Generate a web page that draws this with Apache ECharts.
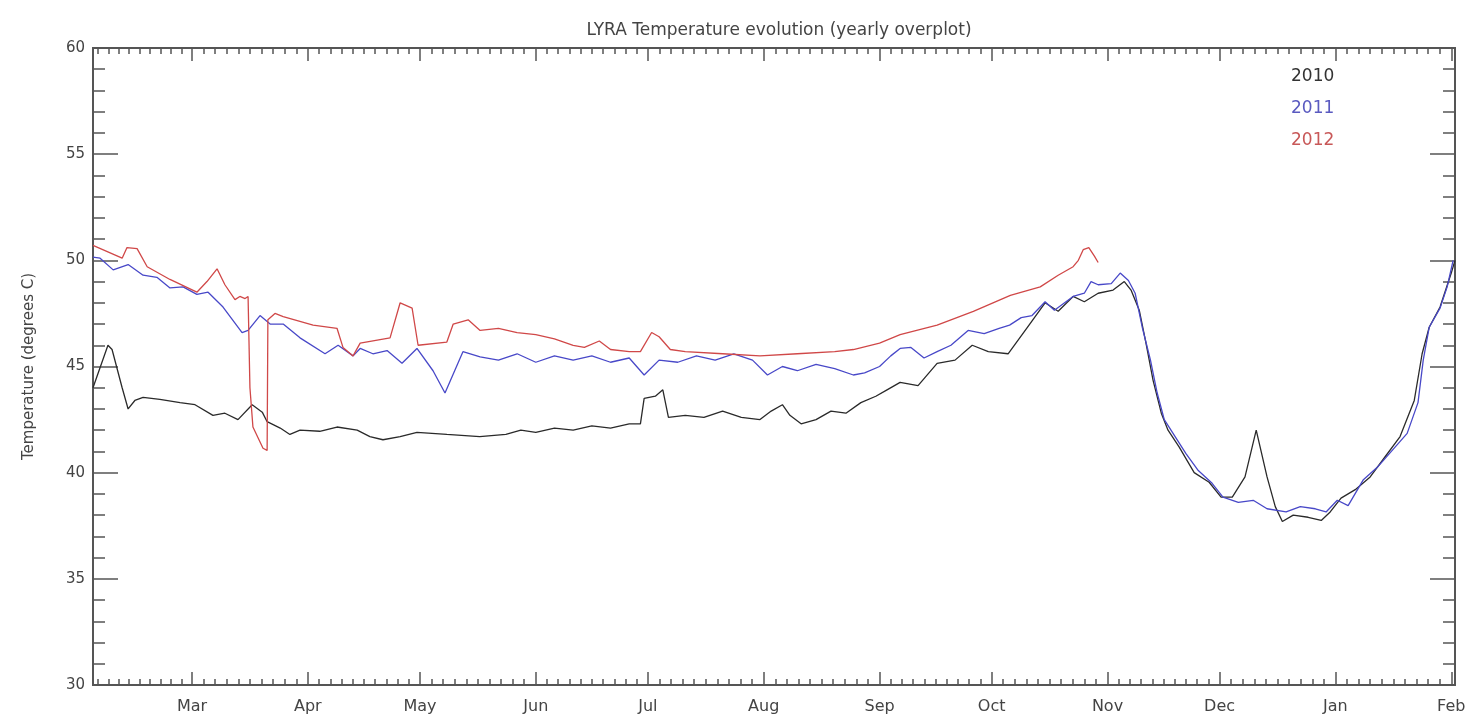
<!DOCTYPE html>
<html>
<head>
<meta charset="utf-8">
<title>LYRA Temperature evolution</title>
<script src="https://cdn.jsdelivr.net/npm/echarts@6/dist/echarts.min.js"></script>
<style>
  html, body { margin: 0; padding: 0; background: #fff; }
  #chart { width: 1476px; height: 724px; }
</style>
</head>
<body>
<div id="chart"></div>
<script>
// x = days since 1 Feb, y = temperature in degrees C
var monthStarts = [0, 28, 59, 89, 120, 150, 181, 212, 242, 273, 303, 334, 365];
var monthLabels = ['Feb', 'Mar', 'Apr', 'May', 'Jun', 'Jul', 'Aug', 'Sep', 'Oct', 'Nov', 'Dec', 'Jan', 'Feb'];
var yTicks = [30, 35, 40, 45, 50, 55, 60];

var days2010 = [1.5, 5.5, 6.6, 9.3, 10.9, 12.7, 14.9, 19.4, 24.8, 28.8, 33.6, 36.8, 40.3, 44.1, 46.8, 48.1,
  51.6, 54.2, 56.9, 62.2, 66.8, 72.2, 75.6, 79.1, 83.7, 88.2, 96.2, 105, 112, 116, 120, 125, 130, 135, 140,
  145, 148, 149, 152, 154, 155.5, 160, 165, 170, 175, 180, 183, 186, 188, 191, 195, 199, 203, 207, 211, 214,
  217.5, 222.3, 227.4, 232.2, 236.8, 241.1, 246.4, 252, 256.3, 259.8, 263.8, 266.8, 270.5, 274.5, 277.5,
  279.3, 281.5, 283.3, 285.2, 287.4, 289.2, 292.2, 296.2, 300.2, 303.4, 306.4, 309.8, 312.8, 315.7, 317.9,
  319.8, 322.7, 326.7, 330.2, 332.6, 335.5, 339.3, 343.3, 347.3, 351.3, 355.1, 357.2, 359.1, 362, 365, 366];
var temps2010 = [44.0, 46.0, 45.8, 44.0, 43.0, 43.4, 43.55, 43.45, 43.3, 43.2, 42.7, 42.8, 42.5, 43.2, 42.85, 42.4,
  42.1, 41.8, 42.0, 41.95, 42.15, 42.0, 41.7, 41.55, 41.7, 41.9, 41.8, 41.7, 41.8, 42.0, 41.9, 42.1, 42.0, 42.2, 42.1,
  42.3, 42.3, 43.5, 43.6, 43.9, 42.6, 42.7, 42.6, 42.9, 42.6, 42.5, 42.9, 43.2, 42.7, 42.3, 42.5, 42.9, 42.8, 43.3, 43.6, 43.9,
  44.25, 44.1, 45.15, 45.3, 46.0, 45.7, 45.6, 46.95, 48.0, 47.6, 48.3, 48.05, 48.45, 48.6, 49.0,
  48.6, 47.65, 46.1, 44.35, 42.8, 42.0, 41.2, 40.0, 39.55, 38.85, 38.85, 39.8, 42.0, 39.8, 38.4,
  37.7, 38.0, 37.9, 37.75, 38.15, 38.8, 39.2, 39.8, 40.75, 41.7, 43.4, 45.6, 46.85, 47.8, 49.4, 50.0];

var days2011 = [1.5, 3.4, 6.9, 10.9, 14.9, 18.6, 22.1, 25.6, 29.3, 32.3, 36.3, 41.4, 43, 46.2, 48.9, 52.4, 56.9,
  63.6, 67.1, 71.1, 73, 76.4, 80.2, 84.2, 88.2, 92.5, 95.7, 100.5, 105.1, 110, 115, 120, 125, 130, 135, 140,
  145, 149, 153, 158, 163, 168, 173, 178, 182, 186, 190, 195, 200, 205, 208, 212, 215,
  217.5, 220.4, 223.9, 227.4, 231.1, 235.7, 240, 244, 246.8, 249.9, 252.8, 256.3, 258.8, 263.8, 266.8, 268.6,
  270.5, 274, 276.4, 278.6, 280.4, 282.3, 284.5, 286.3, 288.2, 291.1, 294, 297.3, 301, 303.9, 308, 312, 315.7,
  320.8, 324.6, 328.6, 331.5, 334.5, 337.4, 341.4, 345.2, 349.2, 353.2, 356.1, 357.5, 359.1, 362, 363.9, 365.5];
var temps2011 = [50.15, 50.1, 49.55, 49.8, 49.3, 49.2, 48.7, 48.75, 48.4, 48.5, 47.8, 46.6, 46.7, 47.4, 47.0, 47.0, 46.35,
  45.6, 46.0, 45.5, 45.85, 45.6, 45.75, 45.15, 45.85, 44.8, 43.75, 45.7, 45.45, 45.3, 45.6, 45.2, 45.5, 45.3, 45.5, 45.2,
  45.4, 44.6, 45.3, 45.2, 45.5, 45.3, 45.6, 45.3, 44.6, 45.0, 44.8, 45.1, 44.9, 44.6, 44.7, 45.0, 45.5,
  45.85, 45.9, 45.4, 45.7, 46.0, 46.7, 46.55, 46.8, 46.95, 47.3, 47.4, 48.05, 47.65, 48.3, 48.45, 49.0,
  48.85, 48.9, 49.4, 49.05, 48.45, 46.85, 45.3, 43.75, 42.5, 41.7, 40.9, 40.1, 39.5, 38.85, 38.6, 38.7, 38.3,
  38.15, 38.4, 38.3, 38.15, 38.7, 38.45, 39.65, 40.25, 41.05, 41.85, 43.3, 45.3, 46.85, 47.75, 48.75, 50.0];

var days2012 = [1.5, 9.3, 10.6, 13.3, 16, 22.1, 29.3, 32, 34.7, 36.8, 39.5, 40.8, 42.2, 43, 43.5, 44.3, 47, 48.1,
  48.3, 50.2, 52.4, 60.4, 66.8, 68.4, 71.1, 73, 81, 83.7, 86.9, 88.5, 96.2, 97.9, 101.9, 105.1, 110, 115, 120,
  125, 130, 133, 137, 140, 145, 148, 151, 153, 156, 160, 170, 180, 190, 200, 205, 212, 217.5, 227.4, 237.1,
  247, 255, 259.8, 263.8, 265.2, 266.5, 268, 269.5, 270.5];
var temps2012 = [50.7, 50.1, 50.6, 50.55, 49.7, 49.1, 48.5, 49.0, 49.6, 48.85, 48.15, 48.3, 48.2, 48.3, 44.0, 42.15, 41.15, 41.05,
  47.2, 47.5, 47.35, 46.95, 46.8, 45.9, 45.5, 46.1, 46.35, 48.0, 47.75, 46.0, 46.15, 47.0, 47.2, 46.7, 46.8, 46.6, 46.5,
  46.3, 46.0, 45.9, 46.2, 45.8, 45.7, 45.7, 46.6, 46.4, 45.8, 45.7, 45.6, 45.5, 45.6, 45.7, 45.8, 46.1, 46.5, 46.95, 47.6,
  48.35, 48.75, 49.3, 49.7, 50.0, 50.5, 50.6, 50.2, 49.9];

function zip(xs, ys) {
  return xs.map(function (x, i) { return [x, ys[i]]; });
}

var xMin = 1.5, xMax = 366;
var majorX = monthStarts.filter(function (d) { return d >= xMin && d <= xMax; });
var minorX = [];
for (var m = 0; m < monthStarts.length - 1; m++) {
  var a = monthStarts[m], b = monthStarts[m + 1];
  for (var k = 1; k < 10; k++) {
    var v = a + (b - a) * k / 10;
    if (v > xMin && v < xMax) minorX.push(v);
  }
}

var axisColor = '#555';
var font = 'DejaVu Sans';

function xAxisDef(pos, ticks, len, showLabel) {
  return {
    type: 'value', position: pos, min: xMin, max: xMax,
    axisLine: { show: true, onZero: false, lineStyle: { color: axisColor, width: 2 } },
    axisTick: { show: true, inside: true, length: len, customValues: ticks, lineStyle: { color: axisColor, width: 1.5 } },
    axisLabel: {
      show: showLabel, customValues: majorX, margin: 14,
      color: '#444', fontSize: 16, fontFamily: font,
      formatter: function (v) { return monthLabels[monthStarts.indexOf(v)]; }
    },
    splitLine: { show: false }
  };
}

function yAxisDef(pos, showLabel) {
  return {
    type: 'value', position: pos, min: 30, max: 60, interval: 5,
    name: showLabel ? 'Temperature (degrees C)' : '',
    nameLocation: 'middle', nameGap: 56, nameRotate: 90,
    nameTextStyle: { color: '#444', fontSize: 15, fontFamily: font },
    axisLine: { show: true, lineStyle: { color: axisColor, width: 2 } },
    axisTick: { show: true, inside: true, length: 25, lineStyle: { color: axisColor, width: 1.5 } },
    minorTick: { show: true, splitNumber: 5, length: 12, lineStyle: { color: axisColor, width: 1.5 } },
    axisLabel: {
      show: showLabel, margin: 8, color: '#444', fontSize: 15, fontFamily: font,
      customValues: yTicks
    },
    splitLine: { show: false }
  };
}

var chart = echarts.init(document.getElementById('chart'));
chart.setOption({
  animation: false,
  backgroundColor: '#fff',
  title: {
    text: 'LYRA Temperature evolution (yearly overplot)',
    left: 774, top: 17, textAlign: 'center',
    textStyle: { color: '#444', fontSize: 17, fontWeight: 'normal', fontFamily: font }
  },
  legend: {
    orient: 'vertical', left: 1280, top: 63, itemGap: 15,
    itemWidth: 0, itemHeight: 0, selectedMode: false,
    textStyle: { fontSize: 17, fontFamily: font },
    data: [
      { name: '2010', textStyle: { color: '#333' } },
      { name: '2011', textStyle: { color: '#5a5ac0' } },
      { name: '2012', textStyle: { color: '#c85858' } }
    ]
  },
  grid: { left: 93, right: 21, top: 48, bottom: 39, containLabel: false },
  xAxis: [
    xAxisDef('bottom', majorX, 13, true),
    xAxisDef('bottom', minorX, 6, false),
    xAxisDef('top', majorX, 13, false),
    xAxisDef('top', minorX, 6, false)
  ],
  yAxis: [yAxisDef('left', true), yAxisDef('right', false)],
  series: [
    { name: '2010', type: 'line', data: zip(days2010, temps2010), color: '#2a2a2a' },
    { name: '2011', type: 'line', data: zip(days2011, temps2011), color: '#4848c8' },
    { name: '2012', type: 'line', data: zip(days2012, temps2012), color: '#d04848' }
  ].map(function (s) {
    s.showSymbol = false;
    s.symbol = 'none';
    s.xAxisIndex = 0;
    s.yAxisIndex = 0;
    s.lineStyle = { width: 1.3 };
    return s;
  })
});
</script>
</body>
</html>
